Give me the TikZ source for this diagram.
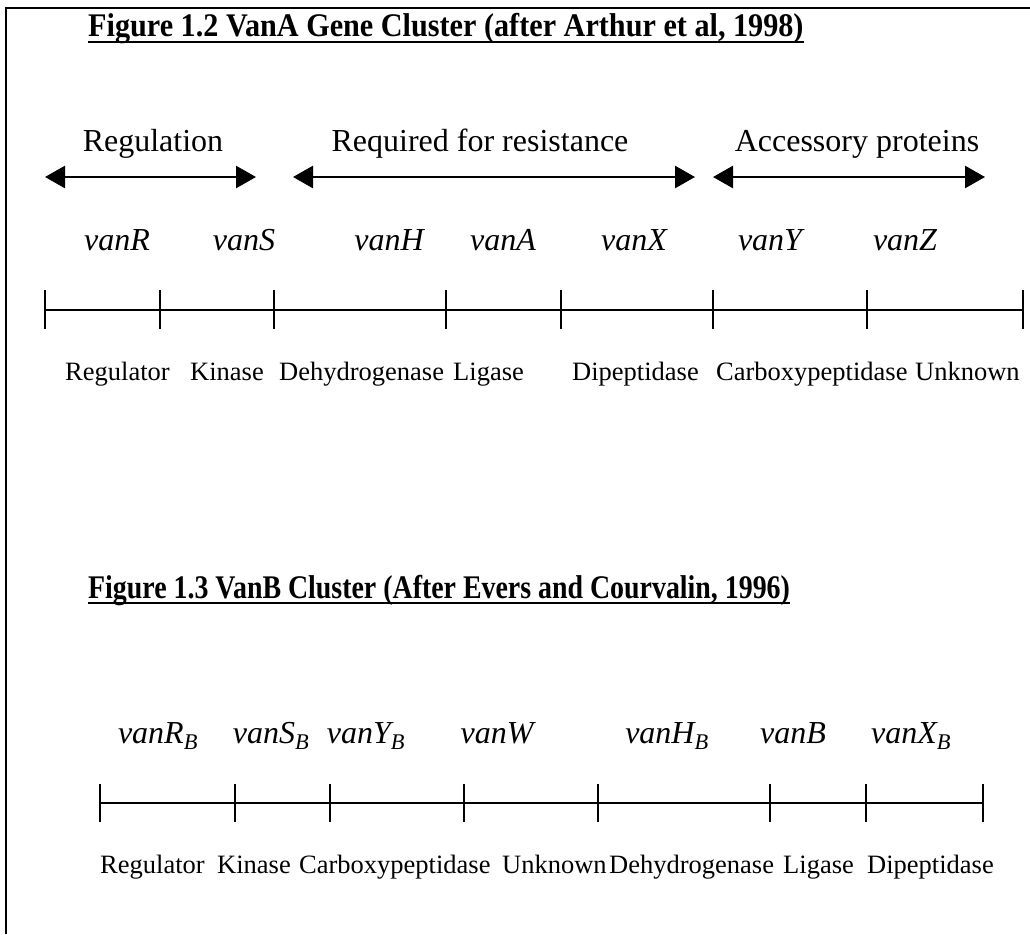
\documentclass[tikz,border=0pt]{standalone}
\usepackage{graphicx}
\usepackage{fontspec}
\setmainfont{Liberation Serif}
\usetikzlibrary{arrows.meta}
\begin{document}
\begin{tikzpicture}[x=1pt,y=-1pt,
  frame/.style={line width=2.6pt},
  head/.style={font=\fontsize{32}{38}\selectfont, anchor=base, inner sep=0pt},
  gene/.style={font=\fontsize{32}{38}\selectfont\itshape, anchor=base, inner sep=0pt},
  func/.style={font=\fontsize{26.5}{32}\selectfont, anchor=base west, inner sep=0pt},
  ttl/.style={font=\fontsize{33}{40}\selectfont\bfseries, anchor=base west, inner sep=0pt},
  span/.style={line width=2.6pt, {Triangle[length=20pt,width=22pt]}-{Triangle[length=20pt,width=22pt]}},
  axis/.style={line width=2.6pt},
  tickmark/.style={line width=2.2pt},
  uline/.style={line width=2pt}]
\useasboundingbox (0,0) rectangle (1030,934);
% frame
\coordinate (fbl) at (6,934);
\coordinate (ftl) at (6,8);
\coordinate (ftr) at (1030,8);
\draw[frame] (fbl) -- (ftl) -- (ftr);

% ---------- Figure 1.2 ----------
\node[ttl] (t1) at (88,37) {\scalebox{0.915}[1]{Figure 1.2 VanA Gene Cluster (after Arthur et al, 1998)}};
\draw[uline] ([yshift=-5pt]t1.base west) -- ([yshift=-5pt]t1.base east);

\node[head] (hreg) at (153,151) {Regulation};
\node[head] (hreq) at (480,151) {Required for resistance};
\node[head] (hacc) at (857,151) {Accessory proteins};

\coordinate (r1) at (45,177);  \coordinate (r2) at (256,177);
\coordinate (q1) at (293,177); \coordinate (q2) at (695,177);
\coordinate (c1) at (713,177); \coordinate (c2) at (985,177);
\draw[span] (r1) -- (r2);
\draw[span] (q1) -- (q2);
\draw[span] (c1) -- (c2);

\node[gene] (gR) at (117,250) {vanR};
\node[gene] (gS) at (244,250) {vanS};
\node[gene] (gH) at (389,250) {vanH};
\node[gene] (gA) at (503,250) {vanA};
\node[gene] (gX) at (634,250) {vanX};
\node[gene] (gY) at (770,250) {vanY};
\node[gene] (gZ) at (905,250) {vanZ};

\foreach \n/\x in {0/45,1/160,2/274,3/446,4/561,5/713,6/867,7/1023}{
  \coordinate (a\n) at (\x,310);
  \draw[tickmark] ([yshift=20pt]a\n) -- ([yshift=-19pt]a\n);
}
\draw[axis] (a0) -- (a7);

\node[func] (fa1) at (65,380) {Regulator};
\node[func] (fa2) at (190,380) {Kinase};
\node[func] (fa3) at (279,380) {Dehydrogenase};
\node[func] (fa4) at (453,380) {Ligase};
\node[func] (fa5) at (572,380) {Dipeptidase};
\node[func] (fa6) at (716,380) {Carboxypeptidase};
\node[func] (fa7) at (915,380) {Unknown};

% ---------- Figure 1.3 ----------
\node[ttl] (t2) at (88,598) {\scalebox{0.845}[1]{Figure 1.3 VanB Cluster (After Evers and Courvalin, 1996)}};
\draw[uline] ([yshift=-5pt]t2.base west) -- ([yshift=-5pt]t2.base east);

\node[gene] (bR) at (158,743) {vanR\textsubscript{B}};
\node[gene] (bS) at (271,743) {vanS\textsubscript{B}};
\node[gene] (bY) at (366,743) {vanY\textsubscript{B}};
\node[gene] (bW) at (497,743) {vanW};
\node[gene] (bH) at (667,743) {vanH\textsubscript{B}};
\node[gene] (bB) at (793,743) {vanB};
\node[gene] (bX) at (911,743) {vanX\textsubscript{B}};

\foreach \n/\x in {0/100,1/235,2/330,3/464,4/598,5/770,6/866,7/983}{
  \coordinate (b\n) at (\x,803);
  \draw[tickmark] ([yshift=19pt]b\n) -- ([yshift=-19pt]b\n);
}
\draw[axis] (b0) -- (b7);

\node[func] (fb1) at (100,873) {Regulator};
\node[func] (fb2) at (217,873) {Kinase};
\node[func] (fb3) at (299,873) {Carboxypeptidase};
\node[func] (fb4) at (502,873) {Unknown};
\node[func] (fb5) at (609,873) {Dehydrogenase};
\node[func] (fb6) at (783,873) {Ligase};
\node[func] (fb7) at (867,873) {Dipeptidase};
\end{tikzpicture}
\end{document}
